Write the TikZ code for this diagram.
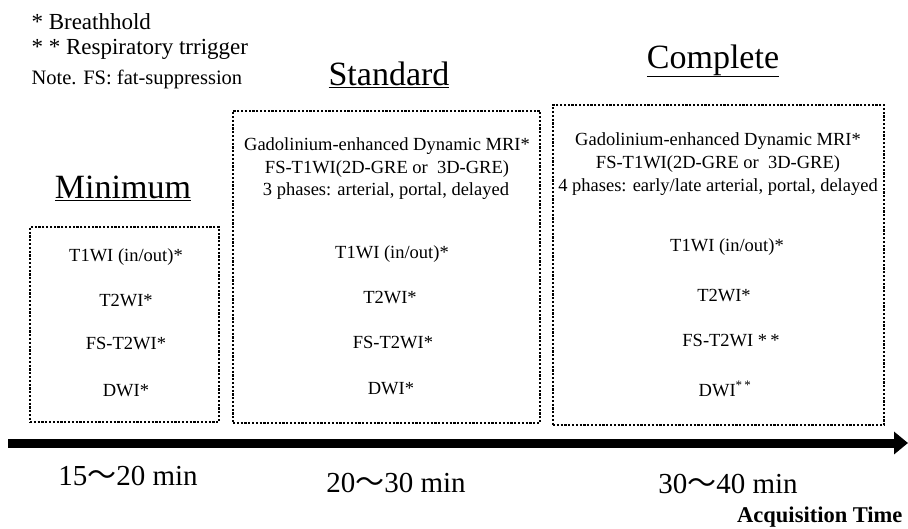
\documentclass[tikz,border=0pt]{standalone}
\usepackage{fontspec}
\setmainfont{Liberation Serif}
\newfontfamily\cjk{Noto Sans CJK JP}
\usetikzlibrary{arrows.meta}
\newcommand{\wv}{{\cjk 〜}}

\begin{document}
\begin{tikzpicture}[x=1pt,y=-1pt,
    frame/.style={draw, line width=2.4pt, dash pattern=on 2.2pt off 1.6pt},
    item/.style={font=\fontsize{18.5}{22}\selectfont, anchor=base},
    legend/.style={font=\fontsize{23}{26}\selectfont, anchor=base west},
    head/.style={font=\fontsize{34}{40}\selectfont, anchor=base},
    time/.style={font=\fontsize{29}{32}\selectfont, anchor=base}]
    \useasboundingbox (0,0) rectangle (908,528);

    \node[legend] (bh) at (28,29) {*\ Breathhold};
    \node[legend] (rt) at (28,54) {*\ *\ Respiratory trrigger};
    \node[legend, font=\fontsize{20.5}{24}\selectfont] (note) at (28,84) {Note. FS: fat-suppression};

    \node[head] (hmin) at (123,198) {\underline{Minimum}};
    \node[head] (hstd) at (389,85) {\underline{Standard}};
    \node[head] (hcom) at (713,68) {\underline{Complete}};

    \node[frame, minimum width=189, minimum height=195] (minbox) at (124.5,324.5) {};
    \node[frame, minimum width=307, minimum height=312] (stdbox) at (386.5,267) {};
    \node[frame, minimum width=331, minimum height=320] (combox) at (718.5,265) {};

    \node[item] (m1) at (126,261) {T1WI (in/out)*};
    \node[item] (m2) at (126,306) {T2WI*};
    \node[item] (m3) at (126,349) {FS-T2WI*};
    \node[item] (m4) at (126,396) {DWI*};

    \node[item] (s0) at (387,150) {Gadolinium-enhanced Dynamic MRI*};
    \node[item] (s0b) at (387,173) {FS-T1WI(2D-GRE or\ \ 3D-GRE)};
    \node[item] (s0c) at (386,195) {3 phases: arterial, portal, delayed};
    \node[item] (s1) at (392,258) {T1WI (in/out)*};
    \node[item] (s2) at (390,303) {T2WI*};
    \node[item] (s3) at (393,348) {FS-T2WI*};
    \node[item] (s4) at (391,394) {DWI*};

    \node[item] (c0) at (718,145) {Gadolinium-enhanced Dynamic MRI*};
    \node[item] (c0b) at (718,168) {FS-T1WI(2D-GRE or\ \ 3D-GRE)};
    \node[item] (c0c) at (718,191) {4 phases: early/late arterial, portal, delayed};
    \node[item] (c1) at (727,251) {T1WI (in/out)*};
    \node[item] (c2) at (724,301) {T2WI*};
    \node[item] (c3) at (731,346) {FS-T2WI *\,*};
    \node[item] (c4) at (725,396) {DWI\textsuperscript{*\,*}};

    \coordinate (t0) at (8,443);
    \coordinate (t1) at (908,443);
    \draw[line width=9pt, -{Triangle[length=14pt,width=22pt]}] (t0) -- (t1);

    \node[time] (tmin) at (128,485) {15\wv20 min};
    \node[time] (tstd) at (396,492) {20\wv30 min};
    \node[time] (tcom) at (728,493) {30\wv40 min};
    \node[anchor=base east, font=\fontsize{22.5}{26}\selectfont\bfseries] (axis) at (906,522) {Acquisition Time};
\end{tikzpicture}
\end{document}
